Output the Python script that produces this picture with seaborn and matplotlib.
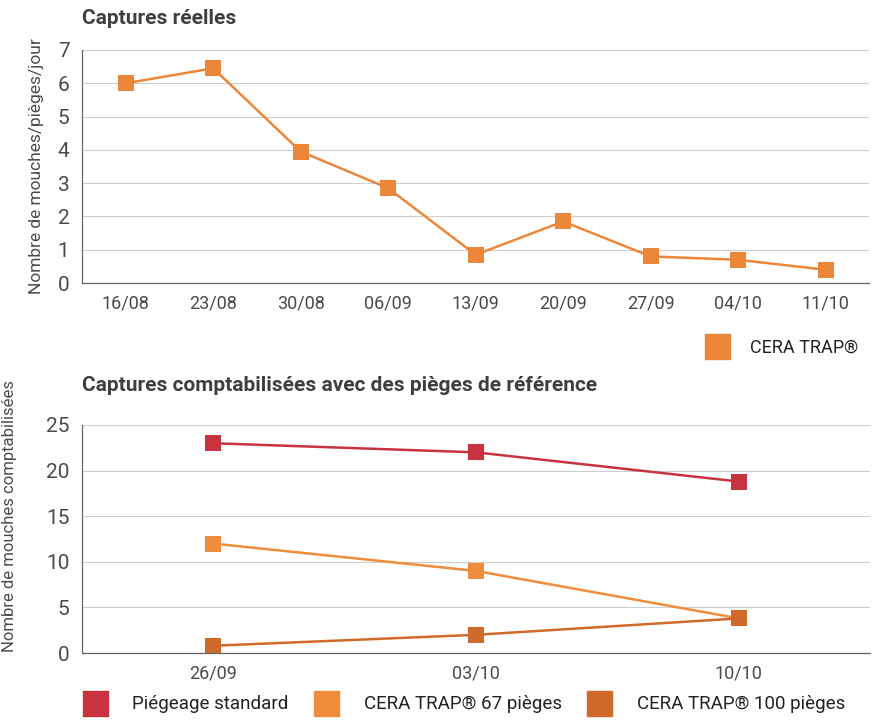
import pandas as pd
import matplotlib.pyplot as plt
import seaborn as sns
from matplotlib.lines import Line2D

# Captures réelles (mouches/pièges/jour)
dates_top = ["16/08", "23/08", "30/08", "06/09", "13/09", "20/09", "27/09", "04/10", "11/10"]
cera_trap = [6.0, 6.45, 3.95, 2.85, 0.85, 1.85, 0.8, 0.7, 0.4]

# Captures comptabilisées avec des pièges de référence
dates_bottom = ["26/09", "03/10", "10/10"]
piegeage_standard = [23.0, 22.0, 18.8]
cera_67 = [12.0, 9.0, 3.8]
cera_100 = [0.8, 2.0, 3.8]
series_names = ["Piégeage standard", "CERA TRAP® 67 pièges", "CERA TRAP® 100 pièges"]

orange = "#EC873A"
colors_bottom = ["#C8333F", "#F08D3C", "#CF6A2B"]
text_grey = "#4a4a4a"
title_grey = "#3f3f3f"

sns.set_theme(style="white")
plt.rcParams["font.family"] = ["Roboto", "DejaVu Sans"]

df_top = pd.DataFrame({"date": dates_top, "val": cera_trap})
df_bottom = pd.DataFrame({
    "date": dates_bottom * 3,
    "val": piegeage_standard + cera_67 + cera_100,
    "serie": [s for s in series_names for _ in dates_bottom],
})

fig = plt.figure(figsize=(8.72, 7.24), dpi=100)
ax1 = fig.add_axes([0.094, 0.609, 0.903, 0.322])
ax2 = fig.add_axes([0.094, 0.098, 0.904, 0.315])


def style_axis(ax, n, ymax, ystep):
    ax.set_xlim(-0.5, n - 0.5)
    ax.set_ylim(0, ymax)
    ax.set_yticks(range(0, ymax + 1, ystep))
    ax.set_xticks(range(n))
    ax.set_xticks([i + 0.5 for i in range(n)], minor=True)
    ax.tick_params(axis="x", which="major", length=0, pad=8, labelsize=13, labelcolor=text_grey)
    ax.tick_params(axis="x", which="minor", length=5, width=0.8, direction="in", color="#444444")
    ax.tick_params(axis="y", length=0, pad=9, labelsize=15, labelcolor=text_grey)
    ax.grid(axis="y", color="#cfcfcf", linewidth=0.8)
    ax.grid(axis="x", visible=False)
    for side in ["top", "right"]:
        ax.spines[side].set_visible(False)
    for side in ["left", "bottom"]:
        ax.spines[side].set_color("#666666")
        ax.spines[side].set_linewidth(0.9)
    ax.set_xlabel("")


sns.lineplot(data=df_top, x="date", y="val", ax=ax1, color=orange, linewidth=1.8,
             marker="s", markersize=11, markeredgewidth=0, sort=False)
style_axis(ax1, len(dates_top), 7, 1)
ax1.set_ylabel("Nombre de mouches/pièges/jour", fontsize=12.5, color=text_grey, labelpad=10)

sns.lineplot(data=df_bottom, x="date", y="val", hue="serie", hue_order=series_names,
             palette=colors_bottom, ax=ax2, linewidth=1.8, marker="s", markersize=11,
             markeredgewidth=0, sort=False, legend=False)
style_axis(ax2, len(dates_bottom), 25, 5)
ax2.set_ylabel("Nombre de mouches comptabilisées", fontsize=12, color=text_grey, labelpad=10)
ax2.yaxis.set_label_coords(-0.082, 0.6)

fig.text(0.094, 0.975, "Captures réelles", fontsize=15, fontweight="bold",
         color=title_grey, va="center")
fig.text(0.094, 0.467, "Captures comptabilisées avec des pièges de référence", fontsize=15,
         fontweight="bold", color=title_grey, va="center")

h_top = [Line2D([], [], marker="s", linestyle="", color=orange, markersize=18)]
fig.legend(h_top, ["CERA TRAP®"], loc="center left", bbox_to_anchor=(0.783, 0.52),
           frameon=False, fontsize=13, handletextpad=0.8, labelcolor="#222222")

h_bot = [Line2D([], [], marker="s", linestyle="", color=c, markersize=18) for c in colors_bottom]
fig.legend(h_bot, series_names, loc="center left", bbox_to_anchor=(0.068, 0.027), ncol=3,
           frameon=False, fontsize=13.5, handletextpad=1.0, columnspacing=1.0,
           labelcolor="#222222")

fig.savefig("out.png", dpi=100, facecolor="white")
